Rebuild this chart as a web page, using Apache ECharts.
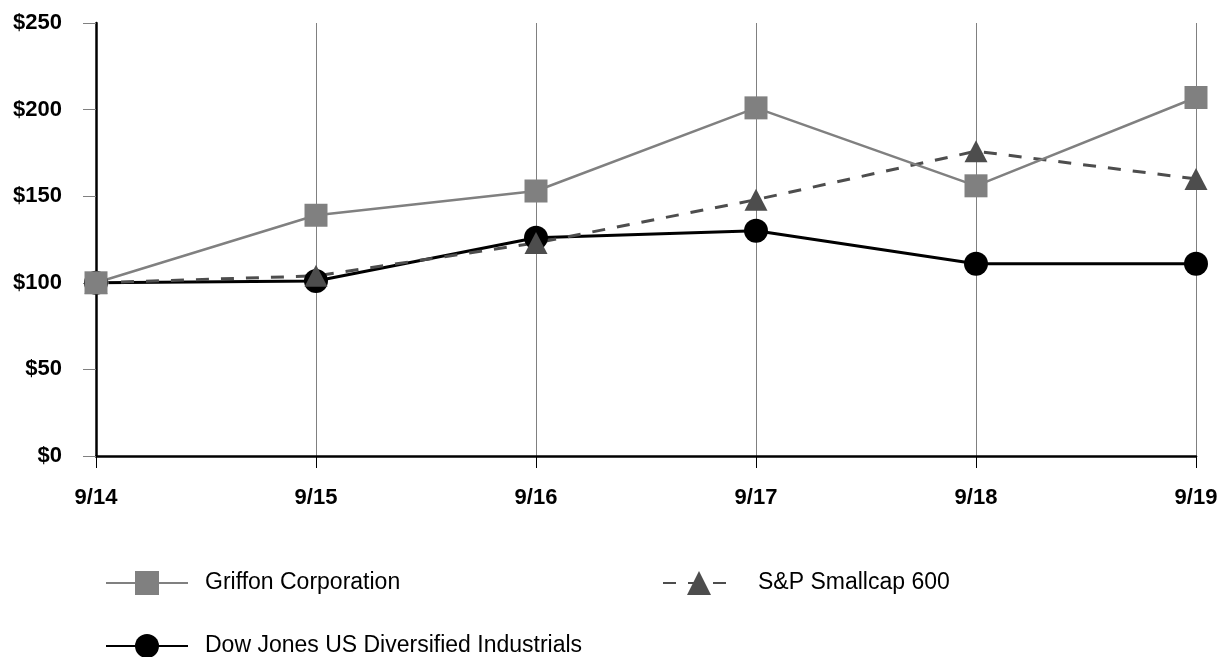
<!DOCTYPE html>
<html>
<head>
<meta charset="utf-8">
<script src="https://cdn.jsdelivr.net/npm/echarts@6/dist/echarts.min.js"></script>
<style>
  html, body { margin: 0; padding: 0; background: #fff; }
  #chart { width: 1228px; height: 657px; }
</style>
</head>
<body>
<div id="chart"></div>
<script>
// data
var years = ['9/14', '9/15', '9/16', '9/17', '9/18', '9/19'];
var griffon = [100, 139, 153, 201, 156, 207];
var smallcap = [100, 104, 123, 148, 176, 160];
var dowJones = [100, 101, 126, 130, 111, 111];
var yTicks = [0, 50, 100, 150, 200, 250];

var FONT = "'Liberation Sans', Arial, sans-serif";

var chart = echarts.init(document.getElementById('chart'));

// one legend box per entry, placed like the original
function legendBox(name, left, top, iconW, textPad) {
    return {
        orient: 'vertical',
        left: left,
        top: top,
        padding: 0,
        itemWidth: iconW,
        itemHeight: 30,
        textStyle: {
            fontFamily: FONT,
            fontSize: 23,
            color: '#000',
            padding: [0, 0, 0, textPad]
        },
        data: [name]
    };
}

var option = {
    animation: false,
    backgroundColor: '#ffffff',
    grid: {
        left: 96,
        right: 32,
        top: 23,
        bottom: 201
    },
    legend: [
        legendBox('Griffon Corporation', 105, 571, 82, 12),
        legendBox('S&P Smallcap 600', 662, 571, 72, 18),
        legendBox('Dow Jones US Diversified Industrials', 105, 634, 82, 12)
    ],
    xAxis: {
        type: 'category',
        data: years,
        boundaryGap: false,
        axisLine: { lineStyle: { color: '#000', width: 2.5 } },
        axisTick: { show: true, length: 12, lineStyle: { color: '#000', width: 1 } },
        axisLabel: {
            margin: 31,
            fontFamily: FONT,
            fontSize: 22,
            fontWeight: 'bold',
            color: '#000'
        },
        splitLine: { show: true, lineStyle: { color: '#808080', width: 1 } }
    },
    yAxis: {
        type: 'value',
        min: yTicks[0],
        max: yTicks[yTicks.length - 1],
        interval: 50,
        axisLine: { show: true, lineStyle: { color: '#000', width: 2.5 } },
        axisTick: { show: true, length: 13, lineStyle: { color: '#808080', width: 1 } },
        axisLabel: {
            margin: 34,
            fontFamily: FONT,
            fontSize: 22,
            fontWeight: 'bold',
            color: '#000',
            formatter: function (v) { return '$' + v; }
        },
        splitLine: { show: false }
    },
    series: [{
        name: 'Dow Jones US Diversified Industrials',
        type: 'line',
        data: dowJones,
        symbol: 'circle',
        symbolSize: 24,
        color: '#000000',
        lineStyle: { color: '#000000', width: 3 },
        itemStyle: { color: '#000000' }
    }, {
        name: 'S&P Smallcap 600',
        type: 'line',
        data: smallcap,
        symbol: 'triangle',
        symbolSize: [23, 22],
        color: '#4d4d4d',
        lineStyle: { color: '#4d4d4d', width: 3, type: [13, 12] },
        itemStyle: { color: '#4d4d4d' }
    }, {
        name: 'Griffon Corporation',
        type: 'line',
        data: griffon,
        symbol: 'rect',
        symbolSize: 23,
        color: '#808080',
        lineStyle: { color: '#808080', width: 2.5 },
        itemStyle: { color: '#808080' }
    }]
};

chart.setOption(option);
</script>
</body>
</html>
